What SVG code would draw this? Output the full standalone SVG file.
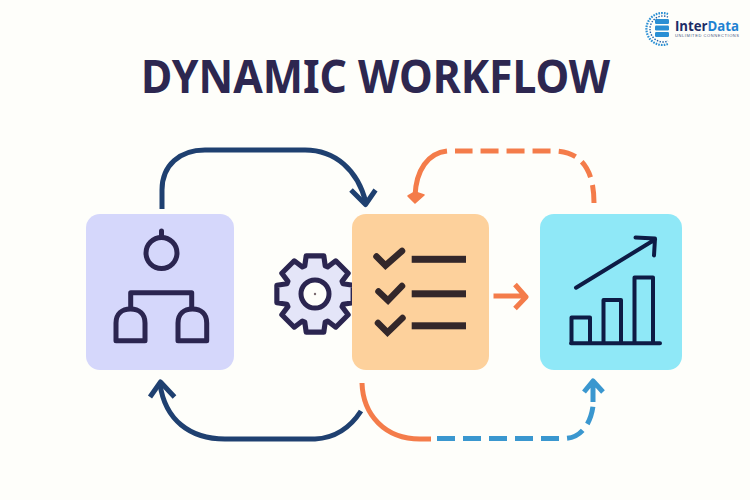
<svg xmlns="http://www.w3.org/2000/svg" width="750" height="500" viewBox="0 0 750 500">
<style>
.icon{fill:none;stroke:#2b2550;stroke-width:5;stroke-linecap:round;stroke-linejoin:round}
.check{fill:none;stroke:#33272a;stroke-width:6.5;stroke-linecap:round;stroke-linejoin:miter}
.bar{fill:#33272a}
.chart{fill:none;stroke:#0d1b45;stroke-width:4;stroke-linecap:round;stroke-linejoin:round}
.conn{fill:none;stroke-width:5;stroke-linecap:butt;stroke-linejoin:round}
.navy{stroke:#1f4070}.orange{stroke:#f47c4a}.blue{stroke:#3a97cf}
.dash{stroke-dasharray:18 8}
</style>
<rect width="750" height="500" fill="#fefefa"/>
<g id="logo">
<path d="M668 14 A16 16 0 1 0 668 44" fill="none" stroke="#2a8fd4" stroke-width="2.2" stroke-dasharray="1.6 1.1"/>
<path d="M668 17 A13 13 0 1 0 668 41" fill="none" stroke="#1f5fa8" stroke-width="1.4" stroke-dasharray="1.4 1.4"/>
<rect x="655" y="19" width="14" height="5" rx="1.2" fill="#2a8fd4"/>
<rect x="655" y="25.500" width="14" height="5" rx="1.2" fill="#2a8fd4"/>
<rect x="655" y="32" width="14" height="5" rx="1.2" fill="#2a8fd4"/>
<text x="675" y="30.500" font-family="'Open Sans','Liberation Sans',sans-serif" font-weight="700" font-size="14.500" textLength="64" lengthAdjust="spacingAndGlyphs"><tspan fill="#1c2c66">Inter</tspan><tspan fill="#1f82d2">Data</tspan></text>
<text x="675" y="37" font-family="'Liberation Sans',sans-serif" font-size="4" fill="#46557f" textLength="64">UNLIMITED CONNECTIONS</text>
</g>
<text id="title" x="141" y="93" font-family="'Noto Sans','Open Sans',sans-serif" font-weight="700" font-size="46" textLength="469" lengthAdjust="spacingAndGlyphs" fill="#2d2750">DYNAMIC WORKFLOW</text>
<g id="node-structure">
<rect x="86" y="214" width="148" height="156" rx="14" fill="#d5d7fb"/>
<circle class="icon" cx="161.500" cy="253" r="15.500"/>
<path class="icon" d="M161.500 231V237M130.700 308V292.700H191.700V308"/>
<path class="icon" d="M116 340.700V323C116 314 122 309 130.500 309S145 314 145 323V340.700Z"/>
<path class="icon" d="M178 340.700V323C178 314 184 309 192.500 309S206.700 314 206.700 323V340.700Z"/>
</g>
<g id="node-gear">
<path d="M305.08 266.75L306.45 256.97H323.55L324.92 266.75L327.25 267.72L335.14 261.77L347.23 273.86L341.28 281.75L342.25 284.08L352.03 285.45V302.55L342.25 303.92L341.28 306.25L347.23 314.14L335.14 326.23L327.25 320.28L324.92 321.25L323.55 331.03H306.45L305.08 321.25L302.75 320.28L294.86 326.23L282.77 314.14L288.72 306.25L287.75 303.92L277.97 302.55V285.45L287.75 284.08L288.72 281.75L282.77 273.86L294.86 261.77L302.75 267.72Z" fill="#e4e5f8" stroke="#2b2550" stroke-width="5" stroke-linejoin="round" transform="translate(315 294) scale(1.03) translate(-315 -294)"/>
<circle cx="315" cy="294" r="14" fill="#fefefa" stroke="#2b2550" stroke-width="5"/>
<circle cx="315" cy="294" r="1.200" fill="#7a6a70"/>
</g>
<g id="node-checklist">
<rect x="352" y="214" width="137" height="156" rx="14" fill="#fdd19c"/>
<path class="check" d="M376.500 256.500L385.500 265.500L402 251"/>
<rect class="bar" x="411.700" y="255.800" width="54.300" height="7"/>
<path class="check" d="M378.500 291.500L388 300.500L402 286"/>
<rect class="bar" x="411.700" y="290.300" width="54.300" height="7"/>
<path class="check" d="M378 323L387.500 332.500L402.500 318"/>
<rect class="bar" x="411.700" y="322.300" width="54.300" height="7"/>
</g>
<g id="node-chart">
<rect x="540" y="214" width="142" height="156" rx="14" fill="#8fe8f7"/>
<path class="chart" d="M571.500 343.300V317.500H590V343.300M603.500 343.300V300H621V343.300M634.500 343.300V277.500H653V343.300M571 343.300H660"/>
<path class="chart" d="M576 287.700L655 239.500M635.500 237.500L655 238.500L654 255.500"/>
</g>
<g id="connectors">
<path class="conn navy" d="M162 209V190C162 165 180 150 205 150H305C335 150 358 170 366 203"/>
<path class="conn navy" d="M351 190L365.500 204.500L375.500 190" stroke-width="6" stroke-linecap="round"/>
<path class="conn navy" d="M361 411C350 428 335 438 315 439H225C190 439 165 420 160 384"/>
<path class="conn navy" d="M150 397L160.500 382L174.500 397" stroke-width="6" stroke-linecap="round"/>
<path class="conn orange" d="M362 383C363 415 385 439 420 439H431" stroke-linecap="round"/>
<path class="conn blue dash" d="M437 438.500H565C582 438 591 422 593 406"/>
<path class="conn blue" d="M593 402V384M584 392L593 381L603 392" stroke-width="5.500" stroke-linecap="round"/>
<path class="conn orange dash" d="M594 203C594 175 585 152 555 151H455"/>
<path class="conn orange" d="M447 151C428 153 416 170 415 196"/>
<path d="M415 203L408 196L415 192L424 195Z" fill="#f47c4a" stroke="#f47c4a" stroke-width="1.500" stroke-linejoin="round"/>
<path class="conn orange" d="M493.500 296H524M515 284.500L526 297L515 308.500" stroke-width="5.500" stroke-linecap="round"/>
</g>
</svg>
